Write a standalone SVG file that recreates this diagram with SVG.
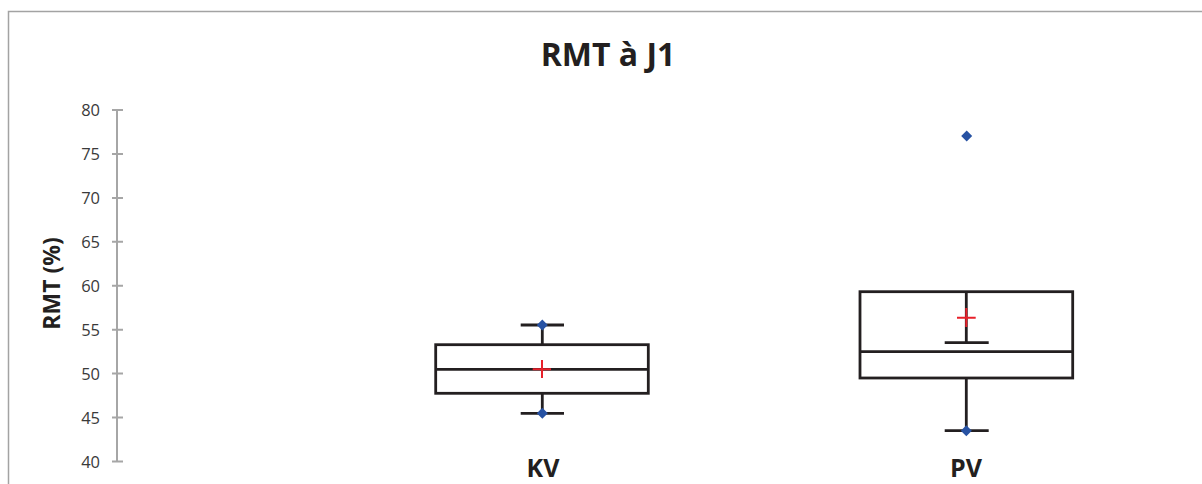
<svg xmlns="http://www.w3.org/2000/svg" width="1202" height="484" viewBox="0 0 1202 484">
<defs>
<style>
.frame{fill:none;stroke:#a3a3a3;stroke-width:1.5}
.axis{stroke:#a6a6a6;stroke-width:2;fill:none}
.tick{font-family:"Open Sans","Liberation Sans",sans-serif;font-size:16.5px;fill:#3a3a3a;text-anchor:end}
.title{font-family:"Open Sans","Liberation Sans",sans-serif;font-weight:bold;font-size:32px;fill:#231f20;text-anchor:middle}
.ylab{font-family:"Open Sans","Liberation Sans",sans-serif;font-weight:bold;font-size:23px;fill:#231f20;text-anchor:middle}
.cat{font-family:"Open Sans","Liberation Sans",sans-serif;font-weight:bold;font-size:25px;fill:#231f20;text-anchor:middle}
.box{fill:none;stroke:#231f20;stroke-width:2.8}
.wh{stroke:#231f20;stroke-width:2.8;fill:none}
.mean{stroke:#e8202a;stroke-width:2;fill:none}
.pt{fill:#2752a3}
</style>
<path id="dia" d="M0,-5.5 L5.5,0 L0,5.5 L-5.5,0 Z"/>
</defs>
<rect width="1202" height="484" fill="#ffffff"/>
<path class="frame" d="M8.5,490 V11.5 H1210"/>
<text class="title" x="608" y="65.5">RMT à J1</text>
<g id="yaxis">
<path class="axis" d="M117,110 V461.5 M112,110 H123 M112,153.9 H123 M112,197.9 H123 M112,241.8 H123 M112,285.8 H123 M112,329.7 H123 M112,373.6 H123 M112,417.6 H123 M112,461.5 H123"/>
<text class="tick" x="100" y="116">80</text>
<text class="tick" x="100" y="160">75</text>
<text class="tick" x="100" y="204">70</text>
<text class="tick" x="100" y="248">65</text>
<text class="tick" x="100" y="292">60</text>
<text class="tick" x="100" y="336">55</text>
<text class="tick" x="100" y="380">50</text>
<text class="tick" x="100" y="424">45</text>
<text class="tick" x="100" y="467.5">40</text>
<text class="ylab" transform="translate(60,283.5) rotate(-90)">RMT (%)</text>
</g>
<g id="KV">
<path class="wh" d="M542.3,325 V344.7 M542.3,393.3 V413.3 M520.7,325 H564 M520.7,413.3 H564"/>
<rect class="box" x="435.7" y="344.7" width="212.6" height="48.6"/>
<path class="wh" d="M435.7,369.3 H648.3"/>
<path class="mean" d="M532.7,369.3 H551 M542,360 V378"/>
<use href="#dia" class="pt" x="542.3" y="325"/>
<use href="#dia" class="pt" x="542.3" y="413.3"/>
<text class="cat" x="543" y="477">KV</text>
</g>
<g id="PV">
<rect class="box" x="860" y="291.7" width="212.7" height="86.3"/>
<path class="wh" d="M966.3,291.7 V342.7 M944.7,342.7 H988.7 M966.3,378 V430.7 M944.7,430.7 H988.7 M860,351.7 H1072.7"/>
<path class="mean" d="M957,317.7 H975.7 M966.3,308 V327"/>
<use href="#dia" class="pt" x="966.3" y="430.7"/>
<use href="#dia" class="pt" x="966.7" y="136"/>
<text class="cat" x="966" y="477">PV</text>
</g>
</svg>
